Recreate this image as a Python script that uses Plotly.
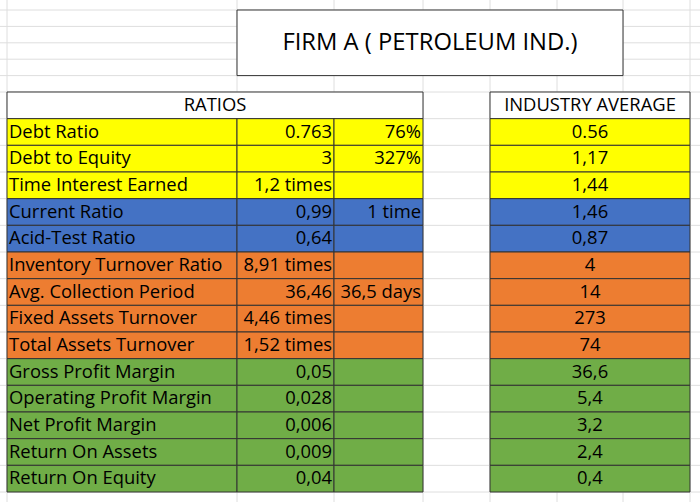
import plotly.graph_objects as go

# --- sheet content ---
title = "FIRM A ( PETROLEUM IND.)"
ratios_header = "RATIOS"
industry_header = "INDUSTRY AVERAGE"

labels = ["Debt Ratio", "Debt to Equity", "Time Interest Earned", "Current Ratio",
          "Acid-Test Ratio", "Inventory Turnover Ratio", "Avg. Collection Period",
          "Fixed Assets Turnover", "Total Assets Turnover", "Gross Profit Margin",
          "Operating Profit Margin", "Net Profit Margin", "Return On Assets",
          "Return On Equity"]
firm_values = ["0.763", "3", "1,2 times", "0,99", "0,64", "8,91 times", "36,46",
               "4,46 times", "1,52 times", "0,05", "0,028", "0,006", "0,009", "0,04"]
firm_notes = ["76%", "327%", "", "1 time", "", "", "36,5 days", "", "", "", "", "", "", ""]
industry_avg = ["0.56", "1,17", "1,44", "1,46", "0,87", "4", "14", "273", "74",
                "36,6", "5,4", "3,2", "2,4", "0,4"]
groups = ["leverage"] * 3 + ["liquidity"] * 2 + ["activity"] * 4 + ["profitability"] * 5

group_colors = {"leverage": "#FFFF00", "liquidity": "#4472C4",
                "activity": "#ED7D31", "profitability": "#70AD47"}

# --- sheet geometry (pixels) ---
W, H = 700, 502
col_x = [7, 237, 334, 423, 490, 557, 623, 690]
top_rows = [10, 26.4, 42.8, 59.2, 75.6]
table_top = 92
row_h = 400 / 15
grid_c = "#DEDEDE"
border_c = "#333333"
FONT = "Open Sans"
FS = 18.4

n = len(labels)
row_top = [table_top + row_h * (i + 1) for i in range(n)]
row_mid = [t + row_h / 2 + 1 for t in row_top]

shapes = []
# light spreadsheet gridlines
h_lines = top_rows + [table_top + row_h * k for k in range(16)]
for y in h_lines:
    shapes.append(dict(type="line", x0=0, x1=W, y0=y, y1=y,
                       line=dict(color=grid_c, width=1), layer="below"))
for x in col_x:
    shapes.append(dict(type="line", x0=x, x1=x, y0=0, y1=H,
                       line=dict(color=grid_c, width=1), layer="below"))

def cell(x0, x1, y0, y1, fill):
    shapes.append(dict(type="rect", x0=x0, x1=x1, y0=y0, y1=y1, fillcolor=fill,
                       line=dict(color=border_c, width=1), layer="below"))

# title box
cell(col_x[1], col_x[6], top_rows[0], top_rows[4], "white")
# headers
cell(col_x[0], col_x[3], table_top, table_top + row_h, "white")
cell(col_x[4], col_x[7], table_top, table_top + row_h, "white")
# body cells
for i in range(n):
    c = group_colors[groups[i]]
    y0, y1 = row_top[i], row_top[i] + row_h
    cell(col_x[0], col_x[1], y0, y1, c)
    cell(col_x[1], col_x[2], y0, y1, c)
    cell(col_x[2], col_x[3], y0, y1, c)
    cell(col_x[4], col_x[7], y0, y1, c)

fig = go.Figure()
txt = dict(mode="text", hoverinfo="skip", showlegend=False,
           textfont=dict(family=FONT, size=FS, color="black"))
fig.add_trace(go.Scatter(x=[col_x[0] + 2] * n, y=row_mid, text=labels,
                         textposition="middle right", **txt))
fig.add_trace(go.Scatter(x=[col_x[2] - 2] * n, y=row_mid, text=firm_values,
                         textposition="middle left", **txt))
fig.add_trace(go.Scatter(x=[col_x[3] - 2] * n, y=row_mid, text=firm_notes,
                         textposition="middle left", **txt))
fig.add_trace(go.Scatter(x=[(col_x[4] + col_x[7]) / 2] * n, y=row_mid, text=industry_avg,
                         textposition="middle center", **txt))
fig.add_trace(go.Scatter(x=[(col_x[0] + col_x[3]) / 2, (col_x[4] + col_x[7]) / 2],
                         y=[table_top + row_h / 2 + 1] * 2,
                         text=[ratios_header, industry_header],
                         textposition="middle center", **txt))
fig.add_trace(go.Scatter(x=[(col_x[1] + col_x[6]) / 2], y=[(top_rows[0] + top_rows[4]) / 2 + 1],
                         text=[title], mode="text", hoverinfo="skip", showlegend=False,
                         textposition="middle center",
                         textfont=dict(family=FONT, size=23.8, color="black")))

fig.update_layout(width=W, height=H, margin=dict(l=0, r=0, t=0, b=0),
                  plot_bgcolor="white", paper_bgcolor="white", shapes=shapes,
                  xaxis=dict(range=[0, W], visible=False, fixedrange=True),
                  yaxis=dict(range=[H, 0], visible=False, fixedrange=True))

fig.write_html("out.html", config={"displayModeBar": False},
               post_script="document.body.style.margin='0';")
